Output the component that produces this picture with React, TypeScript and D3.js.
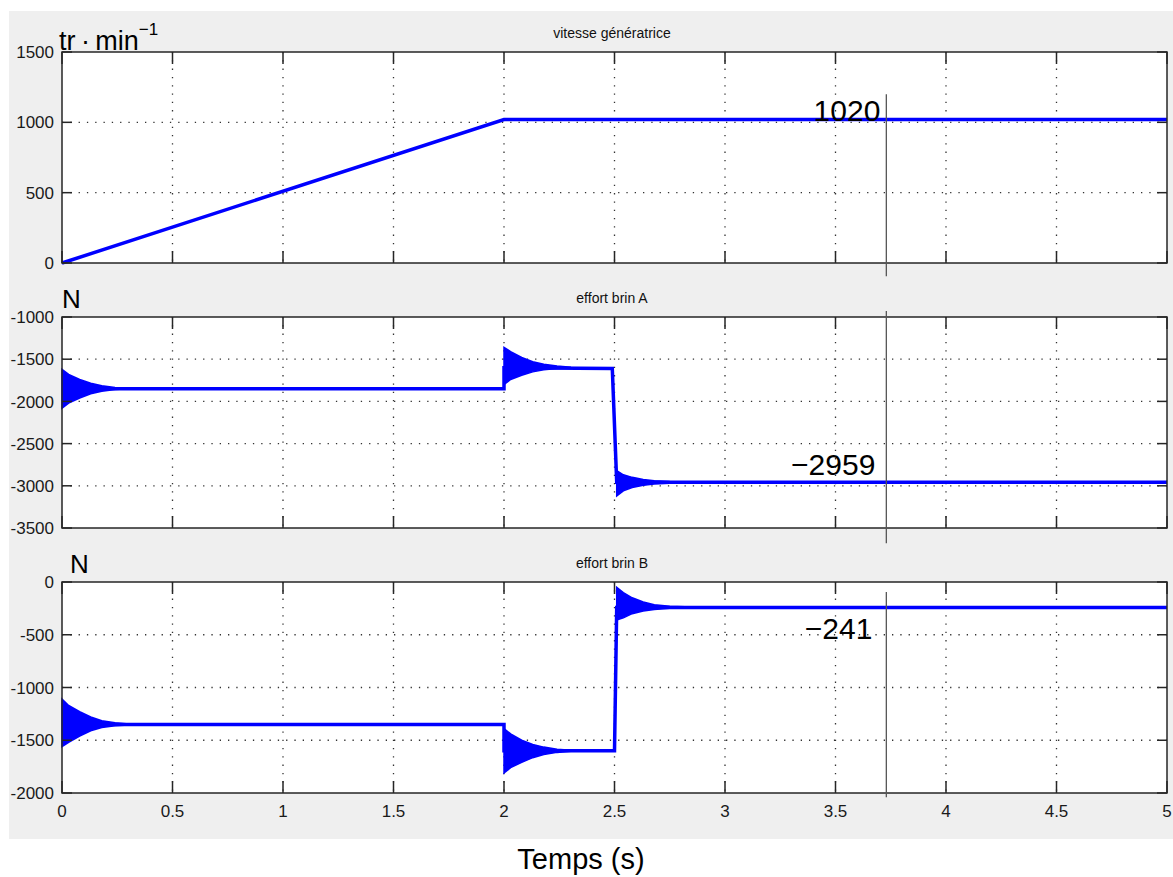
import React, { useRef, useEffect } from 'react';
import * as d3 from 'd3';

// time axis (s)
const timeTicks = [0, 0.5, 1, 1.5, 2, 2.5, 3, 3.5, 4, 4.5, 5];

// vitesse génératrice (tr/min)
const speedTicks = [0, 500, 1000, 1500];
const speedT = [0, 2, 5];
const speedV = [0, 1020, 1020];

// effort brin A (N)
const brinATicks = [-3500, -3000, -2500, -2000, -1500, -1000];
const brinAT = [0, 2, 2, 2.49, 2.51, 5];
const brinAV = [-1850, -1850, -1600, -1610, -2959, -2959];
// oscillation envelopes (start, step at 2 s, step at 2.5 s)
const brinAEnv0T = [0, 0.03, 0.08, 0.13, 0.18, 0.24, 0.3];
const brinAEnv0Hi = [-1620, -1680, -1740, -1785, -1815, -1835, -1845];
const brinAEnv0Lo = [-2080, -2020, -1960, -1910, -1880, -1860, -1852];
const brinAEnv2T = [2, 2.03, 2.08, 2.13, 2.18, 2.24, 2.3];
const brinAEnv2Hi = [-1360, -1410, -1480, -1530, -1560, -1580, -1595];
const brinAEnv2Lo = [-1800, -1740, -1690, -1650, -1625, -1610, -1604];
const brinAEnv25T = [2.51, 2.54, 2.58, 2.63, 2.68, 2.75, 2.85];
const brinAEnv25Hi = [-2820, -2870, -2900, -2925, -2940, -2950, -2956];
const brinAEnv25Lo = [-3120, -3060, -3020, -2995, -2980, -2970, -2962];

// effort brin B (N)
const brinBTicks = [-2000, -1500, -1000, -500, 0];
const brinBT = [0, 2, 2, 2.5, 2.51, 5];
const brinBV = [-1350, -1350, -1600, -1600, -241, -241];
const brinBEnv0T = [0, 0.03, 0.08, 0.13, 0.18, 0.24, 0.3];
const brinBEnv0Hi = [-1110, -1170, -1230, -1280, -1315, -1335, -1345];
const brinBEnv0Lo = [-1560, -1520, -1460, -1410, -1380, -1362, -1355];
const brinBEnv2T = [2, 2.03, 2.08, 2.13, 2.18, 2.24, 2.3];
const brinBEnv2Hi = [-1390, -1440, -1500, -1540, -1565, -1585, -1595];
const brinBEnv2Lo = [-1810, -1760, -1710, -1665, -1635, -1615, -1605];
const brinBEnv25T = [2.51, 2.54, 2.58, 2.63, 2.68, 2.75, 2.85];
const brinBEnv25Hi = [-50, -100, -150, -190, -215, -230, -237];
const brinBEnv25Lo = [-360, -340, -300, -275, -260, -250, -245];

// cursor (s) and annotated values
const cursorT = 3.73;
const speedCursor = [1200, -95];
const brinACursor = [-930, -3680];
const brinBCursor = [-95, -2040];
const annotations = ['1020', '\u22122959', '\u2212241'];
const annotationValues = [1020, -2959, -241];

const W = 1173;
const H = 877;
const plotLeft = 62;
const plotRight = 1167;
const plotTops = [52, 317, 582];
const plotH = 211;
const blue = '#0000ff';
const axisColor = '#262626';
const font = '"Liberation Sans", Arial, Helvetica, sans-serif';

const zip = (ts, vs) => ts.map((t, i) => [t, vs[i]]);
const band = (ts, hi, lo) => ts.map((t, i) => ({ t, hi: hi[i], lo: lo[i] }));

const panels = [
  {
    title: 'vitesse génératrice',
    domain: [0, 1500],
    ticks: speedTicks,
    line: zip(speedT, speedV),
    bands: [],
    cursor: speedCursor,
    labelDx: -6,
    labelDy: 1
  },
  {
    title: 'effort brin A',
    domain: [-3500, -1000],
    ticks: brinATicks,
    line: zip(brinAT, brinAV),
    bands: [
      band(brinAEnv0T, brinAEnv0Hi, brinAEnv0Lo),
      band(brinAEnv2T, brinAEnv2Hi, brinAEnv2Lo),
      band(brinAEnv25T, brinAEnv25Hi, brinAEnv25Lo)
    ],
    cursor: brinACursor,
    labelDx: -11,
    labelDy: -7
  },
  {
    title: 'effort brin B',
    domain: [-2000, 0],
    ticks: brinBTicks,
    line: zip(brinBT, brinBV),
    bands: [
      band(brinBEnv0T, brinBEnv0Hi, brinBEnv0Lo),
      band(brinBEnv2T, brinBEnv2Hi, brinBEnv2Lo),
      band(brinBEnv25T, brinBEnv25Hi, brinBEnv25Lo)
    ],
    cursor: brinBCursor,
    labelDx: -14,
    labelDy: 32
  }
];

const App = () => {
  const ref = useRef(null);

  useEffect(() => {
    const svg = d3.select(ref.current);
    svg.selectAll('*').remove();

    // figure background
    svg.append('rect')
      .attr('x', 9).attr('y', 11)
      .attr('width', W - 9).attr('height', 839 - 11)
      .attr('fill', '#efefef');

    const x = d3.scaleLinear().domain([0, 5]).range([plotLeft, plotRight]);

    panels.forEach((p, k) => {
      const top = plotTops[k];
      const y = d3.scaleLinear().domain(p.domain).range([top + plotH, top]);
      const g = svg.append('g');

      g.append('rect')
        .attr('x', plotLeft).attr('y', top)
        .attr('width', plotRight - plotLeft).attr('height', plotH)
        .attr('fill', '#fff');

      // dotted grid
      timeTicks.slice(1, -1).forEach(t => {
        g.append('line')
          .attr('x1', x(t)).attr('x2', x(t))
          .attr('y1', top).attr('y2', top + plotH)
          .attr('stroke', '#333').attr('stroke-width', 1.3)
          .attr('stroke-dasharray', '1.3,7');
      });
      p.ticks.slice(1, -1).forEach(v => {
        g.append('line')
          .attr('x1', plotLeft).attr('x2', plotRight)
          .attr('y1', y(v)).attr('y2', y(v))
          .attr('stroke', '#333').attr('stroke-width', 1.3)
          .attr('stroke-dasharray', '1.3,7');
      });

      // oscillation bands
      const area = d3.area()
        .x(d => x(d.t))
        .y0(d => y(d.lo))
        .y1(d => y(d.hi));
      p.bands.forEach(b => {
        g.append('path')
          .attr('d', area(b))
          .attr('fill', blue)
          .attr('stroke', blue)
          .attr('stroke-width', 1.5);
      });

      // main trace
      g.append('path')
        .attr('d', d3.line().x(d => x(d[0])).y(d => y(d[1]))(p.line))
        .attr('fill', 'none')
        .attr('stroke', blue)
        .attr('stroke-width', 3.5);

      // axes box and ticks
      g.append('rect')
        .attr('x', plotLeft).attr('y', top)
        .attr('width', plotRight - plotLeft).attr('height', plotH)
        .attr('fill', 'none')
        .attr('stroke', axisColor).attr('stroke-width', 1.5);

      timeTicks.forEach(t => {
        g.append('line')
          .attr('x1', x(t)).attr('x2', x(t))
          .attr('y1', top + plotH).attr('y2', top + plotH - 12)
          .attr('stroke', axisColor).attr('stroke-width', 1.5);
        g.append('line')
          .attr('x1', x(t)).attr('x2', x(t))
          .attr('y1', top).attr('y2', top + 12)
          .attr('stroke', axisColor).attr('stroke-width', 1.5);
      });
      p.ticks.forEach(v => {
        g.append('line')
          .attr('x1', plotLeft).attr('x2', plotLeft + 10)
          .attr('y1', y(v)).attr('y2', y(v))
          .attr('stroke', axisColor).attr('stroke-width', 1.5);
        g.append('line')
          .attr('x1', plotRight).attr('x2', plotRight - 10)
          .attr('y1', y(v)).attr('y2', y(v))
          .attr('stroke', axisColor).attr('stroke-width', 1.5);
        g.append('text')
          .attr('x', plotLeft - 8)
          .attr('y', y(v))
          .attr('dy', '0.36em')
          .attr('text-anchor', 'end')
          .style('font-family', font)
          .style('font-size', '17px')
          .attr('fill', '#1a1a1a')
          .text(String(v));
      });

      if (k === panels.length - 1) {
        timeTicks.forEach(t => {
          g.append('text')
            .attr('x', x(t))
            .attr('y', top + plotH + 24)
            .attr('text-anchor', 'middle')
            .style('font-family', font)
            .style('font-size', '17px')
            .attr('fill', '#1a1a1a')
            .text(String(t));
        });
      }

      // title
      g.append('text')
        .attr('x', 612)
        .attr('y', top - 14)
        .attr('text-anchor', 'middle')
        .style('font-family', font)
        .style('font-size', '14px')
        .attr('fill', '#111')
        .text(p.title);

      // cursor line
      g.append('line')
        .attr('x1', x(cursorT)).attr('x2', x(cursorT))
        .attr('y1', y(p.cursor[0])).attr('y2', y(p.cursor[1]))
        .attr('stroke', '#555').attr('stroke-width', 1.3);

      // cursor value
      g.append('text')
        .attr('x', x(cursorT) + p.labelDx)
        .attr('y', y(annotationValues[k]) + p.labelDy)
        .attr('text-anchor', 'end')
        .style('font-family', font)
        .style('font-size', '30px')
        .attr('fill', '#000')
        .text(annotations[k]);
    });

    // units
    const unit = svg.append('text')
      .attr('x', 59).attr('y', 50)
      .style('font-family', font)
      .style('font-size', '27px')
      .attr('fill', '#000');
    unit.append('tspan').text('tr\u2009\u00b7\u2009min');
    unit.append('tspan')
      .attr('dy', -15)
      .style('font-size', '17px')
      .text('\u22121');

    svg.append('text')
      .attr('x', 62).attr('y', plotTops[1] - 9)
      .style('font-family', font)
      .style('font-size', '26px')
      .text('N');
    svg.append('text')
      .attr('x', 70).attr('y', plotTops[2] - 9)
      .style('font-family', font)
      .style('font-size', '26px')
      .text('N');

    svg.append('text')
      .attr('x', 581).attr('y', 869)
      .attr('text-anchor', 'middle')
      .style('font-family', font)
      .style('font-size', '29px')
      .text('Temps (s)');
  }, []);

  return (
    <div style={{ position: 'absolute', left: 0, top: 0 }}>
      <svg ref={ref} width={W} height={H} style={{ display: 'block' }} />
    </div>
  );
};

export default App;
